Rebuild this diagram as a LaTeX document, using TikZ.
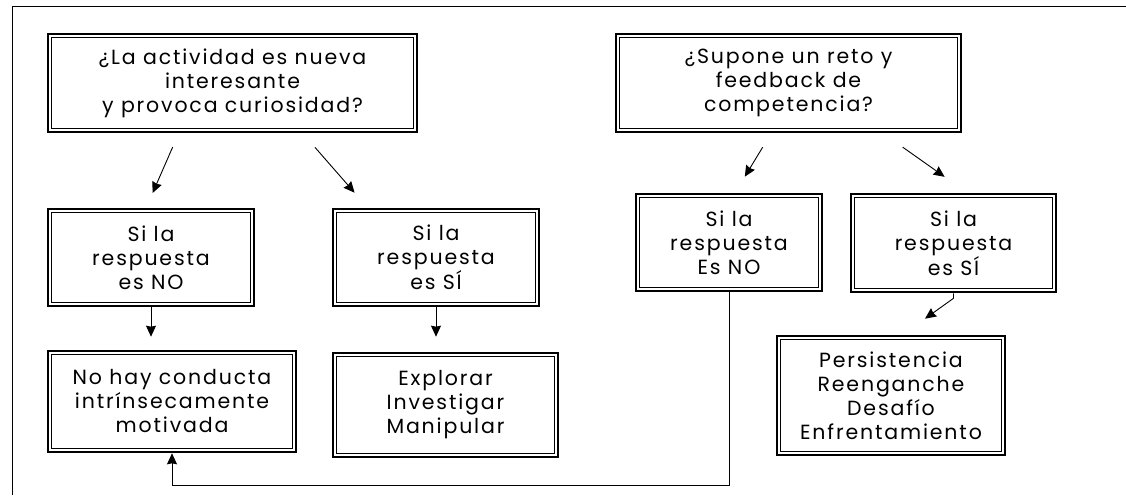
\documentclass[tikz,border=0pt]{standalone}
\usepackage{fontspec}
\newfontfamily\boxfont{Poppins}[LetterSpace=9]
\usetikzlibrary{arrows.meta, positioning, calc}

\begin{document}
\begin{tikzpicture}[
    x=1pt, y=-1pt,
    >={Stealth[length=11pt, width=10pt, inset=1pt]},
    % Styles
    box/.style={
        draw, line width=2.6pt, align=center, inner sep=0pt,
        font=\boxfont\fontsize{20.5}{24}\selectfont,
        append after command={\pgfextra{\draw[line width=0.8pt]
            ([shift={(4.6pt,-4.6pt)}]\tikzlastnode.north west) rectangle
            ([shift={(-4.6pt,4.6pt)}]\tikzlastnode.south east);}}
    },
    conn/.style={->, line width=0.9pt}
]
    \useasboundingbox (0,0) rectangle (1126,495);

    % --- Frame ---
    \draw[line width=1pt] (12,495) -- (12,7) -- (1126,7);

    % --- 1. The two questions ---
    \node[box, minimum width=369pt, minimum height=98pt] (curio) at (232.5,83)
        {¿La actividad es nueva\\interesante\\y provoca curiosidad?};
    \node[box, minimum width=345pt, minimum height=98pt] (reto) at (788.5,83)
        {¿Supone un reto y\\feedback de\\competencia?};

    % --- 2. The answers ---
    \node[box, minimum width=206pt, minimum height=97pt] (curioNo) at (151,257.5)
        {Si la\\respuesta\\es NO};
    \node[box, minimum width=206pt, minimum height=97pt] (curioSi) at (436,257.5)
        {Si la\\respuesta\\es SÍ};
    \node[box, minimum width=186pt, minimum height=97pt] (retoNo) at (729,242.5)
        {Si la\\respuesta\\Es NO};
    \node[box, minimum width=205pt, minimum height=98pt] (retoSi) at (953.5,243)
        {Si la\\respuesta\\es SÍ};

    % --- 3. The outcomes ---
    \node[box, minimum width=248pt, minimum height=101pt] (nada) at (172,401.5)
        {No hay conducta\\intrínsecamente\\motivada};
    \node[box, minimum width=225pt, minimum height=104pt] (explorar) at (445.5,405)
        {Explorar\\Investigar\\Manipular};
    \node[box, minimum width=228pt, minimum height=119pt] (persist) at (891,395.5)
        {Persistencia\\Reenganche\\Desafío\\Enfrentamiento};

    % Arrows from the questions (they float in the gaps)
    \draw[conn, shorten <=15pt, shorten >=16pt] ($(curio.south west)+(132,0)$) -- ($(curioNo.north west)+(99.5,0)$);
    \draw[conn, shorten <=18.6pt, shorten >=19.9pt] ($(curio.south west)+(256,0)$) -- ($(curioSi.north west)+(36,0)$);
    \draw[conn, shorten <=16.3pt, shorten >=18.7pt] ($(reto.south west)+(156.4,0)$) -- ($(retoNo.north west)+(100.4,0)$);
    \draw[conn, shorten <=24pt, shorten >=27.5pt] ($(reto.south west)+(268.4,0)$) -- ($(retoSi.north west)+(117.4,0)$);

    % Arrows to the outcomes
    \draw[conn, shorten >=13pt] (curioNo.south) -- (curioNo.south |- nada.north);
    \draw[conn, shorten >=15pt] (curioSi.south) -- (curioSi.south |- explorar.north);
    \draw[conn] (retoSi.south) -- ++(0,5) -- ($(persist.north)+(34,-16)$);

    % Back to the left
    \draw[conn] (retoNo.south) -- ++(0,193) -| (nada.south);

\end{tikzpicture}
\end{document}
